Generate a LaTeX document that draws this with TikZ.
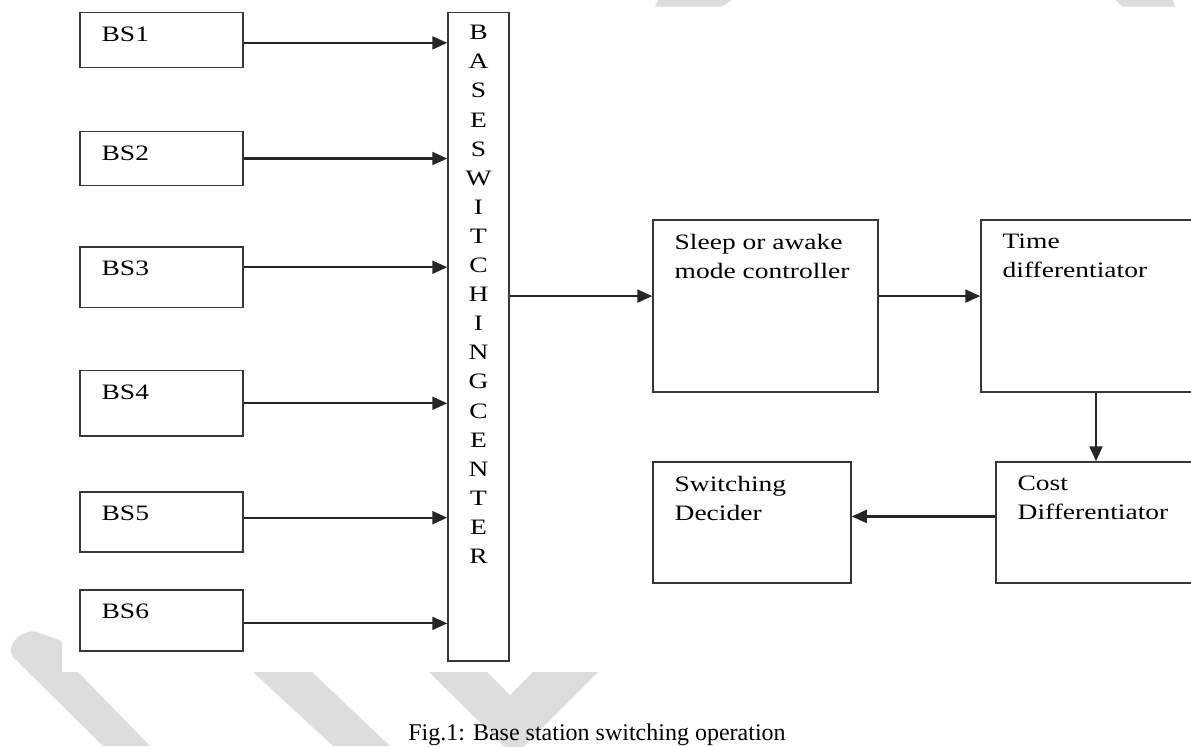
\documentclass[tikz,border=0pt]{standalone}
\usepackage{fontspec}
\setmainfont{Liberation Serif}[FakeStretch=1.25]
\newfontfamily\figcapfont{Liberation Serif}
\usetikzlibrary{arrows.meta}
\definecolor{watermark}{RGB}{221,221,221}
\definecolor{boxline}{RGB}{55,55,55}

\begin{document}
\begin{tikzpicture}[ % one unit = one pixel of the 1191x746 page, y grows downwards
x=0.5pt, y=-0.5pt,
square/.style={rectangle, draw=boxline, line width=0.75pt, inner sep=0pt},
bs_square/.style={square, minimum width=81.5pt},
box_text/.style={anchor=north west, inner sep=0pt, xshift=11pt, yshift=-7.25pt, align=left, font=\fontsize{11}{14.5}\selectfont},
letter_text/.style={anchor=north, inner sep=0pt, yshift=-6.5pt, align=center, font=\fontsize{11}{14.55}\selectfont},
out_arrow/.style={-{Triangle[length=7.5pt, width=6.5pt]}, line width=1.1pt, draw=black!85}
]
\useasboundingbox (0,0) rectangle (1191,746);
\clip (0,0) rectangle (1191,746);

% grey watermark strokes behind the figure
\fill[watermark] (103,746) -- (13,657) .. controls (5,645) and (22,628) .. (37,632) -- (62,641) -- (62,672) -- (78,672) -- (150,746) -- cycle;
\fill[watermark] (253,672) -- (312,672) -- (390,746) -- (333,746) -- cycle;
\fill[watermark] (429,672) -- (487,672) -- (510,695) -- (533,672) -- (598,672) -- (514,756) -- cycle;
\fill[watermark] (658,0) -- (732,0) -- (722,6.5) -- (655,6.5) -- cycle;
\fill[watermark] (1116,0) -- (1173,0) -- (1175,6.5) -- (1122,6.5) -- cycle;

% \node[type, size, label](name_of_node) at (x,y) {};
\node[bs_square, minimum height=27.3pt, label={[box_text]north west:BS1}](bs_1) at (161.5,40) {};
\node[bs_square, minimum height=26.8pt, label={[box_text]north west:BS2}](bs_2) at (161.5,158.5) {};
\node[bs_square, minimum height=30.35pt, label={[box_text]north west:BS3}](bs_3) at (161.5,277.3) {};
\node[bs_square, minimum height=32.65pt, label={[box_text]north west:BS4}](bs_4) at (161.5,403.3) {};
\node[bs_square, minimum height=30pt, label={[box_text]north west:BS5}](bs_5) at (161.5,522) {};
\node[bs_square, minimum height=30.5pt, label={[box_text]north west:BS6}](bs_6) at (161.5,620.5) {};

\node[square, minimum width=30.5pt, minimum height=324.15pt,
  label={[letter_text]north:B\\A\\S\\E\\S\\W\\I\\T\\C\\H\\I\\N\\G\\C\\E\\N\\T\\E\\R}](switch_center) at (478.5,336.85) {};

\node[square, minimum width=112.5pt, minimum height=86pt, label={[box_text]north west:Sleep or awake\\mode controller}](sleep_ctrl) at (765.5,306) {};
\node[square, minimum width=115pt, minimum height=86pt, label={[box_text]north west:Time\\differentiator}](time_diff) at (1096,306) {};
\node[square, minimum width=99pt, minimum height=60.5pt, label={[box_text]north west:Switching\\Decider}](switch_decider) at (752,522.5) {};
\node[square, minimum width=115pt, minimum height=60.5pt, label={[box_text]north west:Cost\\Differentiator}](cost_diff) at (1111,522.5) {};

\node[anchor=base, inner sep=0pt, font=\figcapfont\fontsize{12}{14}\selectfont](caption) at (597,740) {Fig.1: Base station switching operation};

% \draw[out_arrow](name_of_node.anchor) -- (name_of_node.anchor -| other_node.side);
\draw[out_arrow](bs_1.358) -- (bs_1.358 -| switch_center.west);
\draw[out_arrow](bs_2.east) -- (bs_2.east -| switch_center.west);
\draw[out_arrow](bs_3.7) -- (bs_3.7 -| switch_center.west);
\draw[out_arrow](bs_4.east) -- (bs_4.east -| switch_center.west);
\draw[out_arrow](bs_5.3) -- (bs_5.3 -| switch_center.west);
\draw[out_arrow](bs_6.358) -- (bs_6.358 -| switch_center.west);

\draw[out_arrow](switch_center.east |- sleep_ctrl.175) -- (sleep_ctrl.175);
\draw[out_arrow](sleep_ctrl.5) -- (sleep_ctrl.5 -| time_diff.west);
\draw[out_arrow](time_diff.south) -- (time_diff.south |- cost_diff.north);
\draw[out_arrow](cost_diff.177) -- (cost_diff.177 -| switch_decider.east);
\end{tikzpicture}
\end{document}
